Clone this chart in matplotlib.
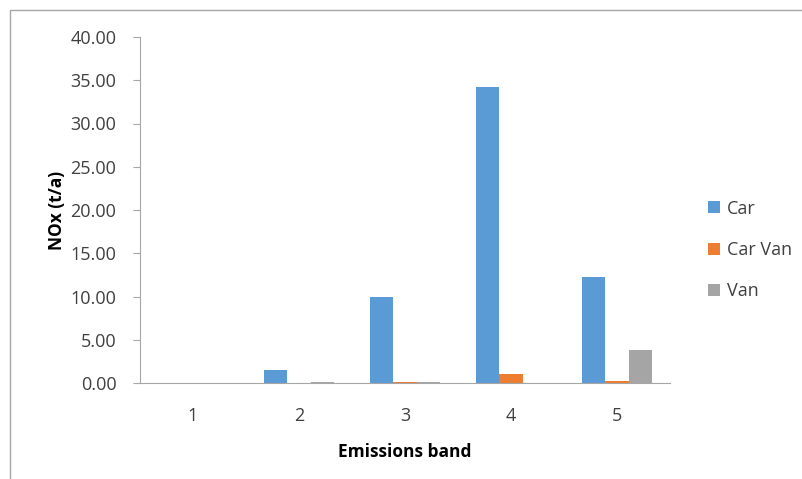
import numpy as np
import matplotlib.pyplot as plt
from matplotlib.patches import Rectangle

bands = ['1', '2', '3', '4', '5']
car = [0.0, 1.55, 10.0, 34.2, 12.3]
car_van = [0.0, 0.0, 0.1, 1.05, 0.25]
van = [0.0, 0.12, 0.12, 0.0, 3.85]

series = [('Car', car, '#5B9BD5'), ('Car Van', car_van, '#ED7D31'), ('Van', van, '#A5A5A5')]

plt.rcParams['font.family'] = ['Open Sans', 'DejaVu Sans']

fig = plt.figure(figsize=(8.02, 4.79), dpi=100)
W, H = 802, 479
ax = fig.add_axes([140 / W, 1 - 383 / H, (670 - 140) / W, (383 - 37) / H])

# outer chart border
fig.patches.append(Rectangle((10 / W, -0.1), 1.0, 1 - 10 / H + 0.1, transform=fig.transFigure,
                             fill=False, edgecolor='#a6a6a6', linewidth=1))

x = np.arange(len(bands))
w = 0.217
for i, (name, vals, col) in enumerate(series):
    ax.bar(x + (i - 1) * w, vals, width=w, color=col, label=name)

ax.set_xlim(-0.5, len(bands) - 0.5)
ax.set_ylim(0, 40)
ax.set_yticks(np.arange(0, 41, 5))
ax.set_yticklabels([f'{v:.2f}' for v in np.arange(0, 41, 5)])
ax.set_xticks(x)
ax.set_xticklabels(bands)

for s in ['top', 'right']:
    ax.spines[s].set_visible(False)
for s in ['left', 'bottom']:
    ax.spines[s].set_color('#a6a6a6')
ax.tick_params(axis='y', colors='#a6a6a6', labelcolor='#404040', length=5, labelsize=13, pad=12)
ax.tick_params(axis='x', length=0, labelcolor='#404040', labelsize=13, pad=17)

ax.set_xlabel('Emissions band', fontsize=12.5, fontweight='bold', color='#000000', labelpad=13)
ax.set_ylabel('NOx (t/a)', fontsize=12.5, fontweight='bold', color='#000000', labelpad=3)

leg = fig.legend(loc='center left', bbox_to_anchor=(692 / W, 1 - 250 / H), frameon=False,
                 fontsize=13, handlelength=0.65, handleheight=0.65, handletextpad=0.4,
                 labelspacing=1.3, labelcolor='#404040')

fig.savefig('out.png', dpi=100)
